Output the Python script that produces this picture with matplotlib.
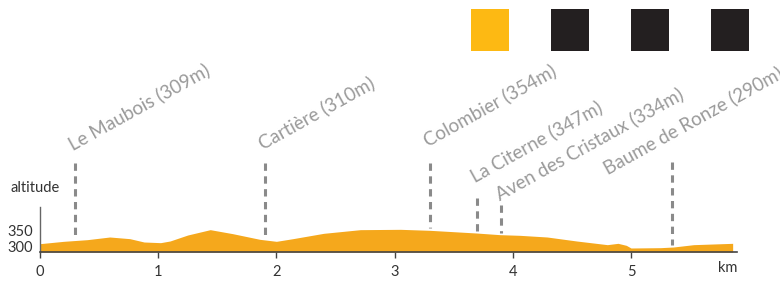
import matplotlib
matplotlib.use("Agg")
import matplotlib.pyplot as plt

# elevation profile (km, m)
dist = [0, 0.2, 0.4, 0.59, 0.76, 0.88, 1.02, 1.1, 1.25, 1.44, 1.63, 1.86, 2.0, 2.14,
        2.4, 2.71, 3.05, 3.3, 3.69, 3.89, 4.06, 4.29, 4.54, 4.8, 4.89, 4.96, 5.0,
        5.25, 5.36, 5.53, 5.86]
alt = [310, 317, 322, 330, 325, 315, 313, 318, 336, 352, 340, 323, 317, 325,
       341, 352, 353, 350, 342, 337, 335, 330, 318, 307, 311, 305, 297,
       298, 300, 307, 311]

# waypoints
places = ["Le Maubois (309m)", "Cartière (310m)", "Colombier (354m)",
          "La Citerne (347m)", "Aven des Cristaux (334m)", "Baume de Ronze (290m)"]
place_km = [0.3, 1.9, 3.3, 3.7, 3.9, 5.35]

# layout of marker lines / labels (altitude units of the axes)
line_top = [552, 552, 552, 447, 426, 555]
label_xy = [(0.279, 588), (1.887, 591), (3.283, 600), (3.68, 492), (3.89, 438), (4.80, 516)]

xticks = [0, 1, 2, 3, 4, 5]
yticks = [300, 350]

FONT = "Lato"
GREY = "#9a9a9a"

fig = plt.figure(figsize=(7.8, 2.81), dpi=100)
ax = fig.add_axes([40 / 780, 29 / 281, 740 / 780, 252 / 281])
ax.set_xlim(0, 740 / 118.2)
ax.set_ylim(285, 285 + 252 * 3)

ax.fill_between(dist, 285, alt, color="#F5A81C", lw=0, zorder=2)

for k, name, top, (tx, ty) in zip(place_km, places, line_top, label_xy):
    # ground level under the marker
    ground = None
    for i in range(len(dist) - 1):
        if dist[i] <= k <= dist[i + 1]:
            f = (k - dist[i]) / (dist[i + 1] - dist[i])
            ground = alt[i] + f * (alt[i + 1] - alt[i])
    ax.plot([k, k], [top, ground + 6], color="#8a8a8a", lw=2.2,
            dashes=(2.4, 1.8), solid_capstyle="butt", zorder=1)
    ax.text(tx, ty, name, rotation=29, rotation_mode="anchor", ha="left", va="baseline",
            color=GREY, fontsize=13.5, family=FONT)

for s in ["top", "right"]:
    ax.spines[s].set_visible(False)
ax.spines["bottom"].set_bounds(0, 5.9)
ax.spines["bottom"].set_color("#444444")
ax.spines["bottom"].set_linewidth(1.2)
ax.spines["left"].set_bounds(285, 420)
ax.spines["left"].set_color("#666666")
ax.spines["left"].set_linewidth(1.0)

ax.set_xticks(xticks)
ax.set_xticklabels([str(t) for t in xticks], family=FONT, fontsize=10.5, color="#333333")
ax.set_yticks(yticks)
ax.set_yticklabels([str(t) for t in yticks], family=FONT, fontsize=10.5, color="#333333")
ax.tick_params(axis="x", length=4, width=1, color="#444444", pad=5)
ax.tick_params(axis="y", length=0, pad=5)

ax.text(5.82, 285 - 3 * 9, "km", ha="center", va="top",
        family=FONT, fontsize=10.5, color="#333333")

fig.text(35 / 780, 1 - 188 / 281, "altitude", ha="center", va="center",
         family=FONT, fontsize=10.5, color="#333333")

# colour squares top right
sq_cols = ["#FDB913", "#231F20", "#231F20", "#231F20"]
for i, c in enumerate(sq_cols):
    x0 = 471 + 80 * i
    fig.patches.append(plt.Rectangle((x0 / 780, 1 - 51 / 281), 38 / 780, 42 / 281,
                                     transform=fig.transFigure, color=c, lw=0))

fig.savefig("out.png", dpi=100)
